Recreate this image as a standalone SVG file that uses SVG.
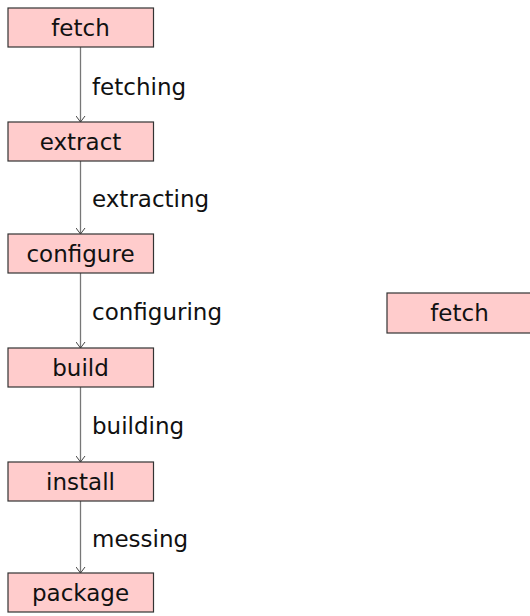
<svg xmlns="http://www.w3.org/2000/svg" width="530" height="616" viewBox="0 0 530 616">
<style>
.box{fill:#ffcccc;stroke:#333;stroke-width:1.2}
.t{font-family:"DejaVu Sans",sans-serif;font-size:23px;fill:#111}
.c{text-anchor:middle}
.e{stroke:#777;stroke-width:1.3;fill:none}
</style>
<defs>
<marker id="ah" markerWidth="12" markerHeight="10" refX="10" refY="5" orient="auto" markerUnits="userSpaceOnUse">
<path d="M4,0.5 L10,5 L4,9.5" fill="none" stroke="#444" stroke-width="1"/>
</marker>
</defs>
<g id="connectors">
<line class="e" x1="80.5" y1="47" x2="80.5" y2="122" marker-end="url(#ah)"/>
<text class="t" x="92" y="95">fetching</text>
<line class="e" x1="80.5" y1="161" x2="80.5" y2="234" marker-end="url(#ah)"/>
<text class="t" x="92" y="207">extracting</text>
<line class="e" x1="80.5" y1="273" x2="80.5" y2="348" marker-end="url(#ah)"/>
<text class="t" x="92" y="320">configuring</text>
<line class="e" x1="80.5" y1="387" x2="80.5" y2="462" marker-end="url(#ah)"/>
<text class="t" x="92" y="434">building</text>
<line class="e" x1="80.5" y1="501" x2="80.5" y2="573" marker-end="url(#ah)"/>
<text class="t" x="92" y="547">messing</text>
</g>
<g id="fetch"><rect class="box" x="8" y="8" width="145.5" height="39"/><text class="t c" x="80.5" y="36">fetch</text></g>
<g id="extract"><rect class="box" x="8" y="122" width="145.5" height="39"/><text class="t c" x="80.5" y="150">extract</text></g>
<g id="configure"><rect class="box" x="8" y="234" width="145.5" height="39"/><text class="t c" x="80.5" y="262">configure</text></g>
<g id="build"><rect class="box" x="8" y="348" width="145.5" height="39"/><text class="t c" x="80.5" y="376">build</text></g>
<g id="install"><rect class="box" x="8" y="462" width="145.5" height="39"/><text class="t c" x="80.5" y="490">install</text></g>
<g id="package"><rect class="box" x="8" y="573" width="145.5" height="39"/><text class="t c" x="80.5" y="601">package</text></g>
<g id="fetch2"><rect class="box" x="387" y="293" width="145.5" height="40"/><text class="t c" x="459.5" y="321">fetch</text></g>
</svg>
